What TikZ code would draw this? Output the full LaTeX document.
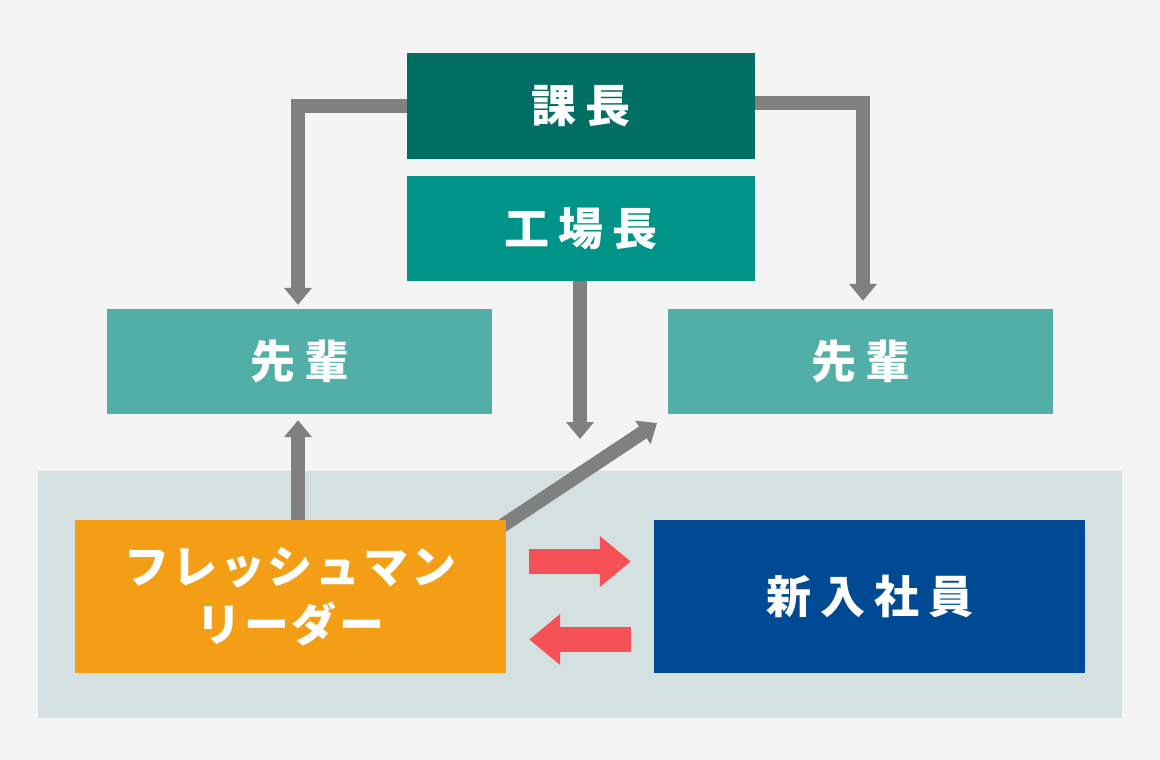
\documentclass[tikz,border=0pt]{standalone}
\usepackage{fontspec}
\usepackage{tikz}
\usetikzlibrary{arrows.meta}

\newfontfamily\jpfont{Noto Sans CJK JP}[LetterSpace=20]
\newfontfamily\kanafont{Noto Sans CJK JP}[LetterSpace=6]

\definecolor{bgGrey}{HTML}{F4F4F4}
\definecolor{panelGrey}{HTML}{D5E1E1}
\definecolor{kachoGreen}{HTML}{006E62}
\definecolor{kojoGreen}{HTML}{009387}
\definecolor{senpaiGreen}{HTML}{52AFA8}
\definecolor{leaderOrange}{HTML}{F39E14}
\definecolor{newBlue}{HTML}{004A94}
\definecolor{linkGrey}{HTML}{808080}
\definecolor{swapRed}{HTML}{F55157}

\pgfdeclarelayer{panel}
\pgfdeclarelayer{links}
\pgfsetlayers{panel,links,main}

\tikzset{
  box/.style={inner sep=0pt, text=white, font=\jpfont\bfseries\fontsize{45}{58}\selectfont},
  link/.style={draw=linkGrey, line width=14pt, -{Triangle[width=27pt,length=17pt]}},
  swap/.style={draw=swapRed, line width=25pt, -{Triangle[width=49pt,length=31pt]}}
}

\begin{document}
\begin{tikzpicture}[x=1pt, y=-1pt]
        \def\topw{348}
        \def\midw{385}
        \def\botw{431}
        \useasboundingbox (0,0) rectangle (1160,760);
        \begin{pgfonlayer}{panel}
            \fill[bgGrey] (0,0) rectangle (1160,760);
            \fill[panelGrey] (38,471) rectangle (1122,718);
        \end{pgfonlayer}
        % boxes
        \node[box, fill=kachoGreen, minimum width=\topw pt, minimum height=106pt] (kacho) at (581,106) {課長};
        \node[box, fill=kojoGreen, minimum width=\topw pt, minimum height=105pt] (kojo) at (581,228.5) {工場長};
        \node[box, fill=senpaiGreen, minimum width=\midw pt, minimum height=105pt] (senpaiL) at (299.5,361.5) {先輩};
        \node[box, fill=senpaiGreen, minimum width=\midw pt, minimum height=105pt] (senpaiR) at (860.5,361.5) {先輩};
        \node[box, fill=leaderOrange, minimum width=\botw pt, minimum height=153pt, align=center,
              font=\kanafont\bfseries\fontsize{45}{58}\selectfont] (leader) at (290.5,596.5) {\raisebox{-6pt}{フレッシュマン}\\\raisebox{-6pt}{リーダー}};
        \node[box, fill=newBlue, minimum width=\botw pt, minimum height=153pt] (shinnyu) at (869.5,596.5) {新入社員};
        \coordinate (kojoTip) at (580,439);
        \coordinate (diagTip) at (657,423);
        % connectors
        \begin{pgfonlayer}{links}
            \draw[link] (kacho.west) -| ([shift={(-1.5pt,4pt)}]senpaiL.north);
            \draw[link] ([yshift=3pt]kacho.east) -| ([shift={(2.5pt,8pt)}]senpaiR.north);
            \draw[link] ([xshift=-1pt]kojo.south) -- (kojoTip);
            \draw[link] ([xshift=7.5pt]leader.north) -- ([shift={(-1.5pt,-6pt)}]senpaiL.south);
            \draw[link] ([shift={(-4pt,-6pt)}]leader.north east) -- (diagTip);
            \draw[swap] ([shift={(23,-35)}]leader.east) -- ([shift={(-23,-35)}]shinnyu.west);
            \draw[swap] ([shift={(-23,43)}]shinnyu.west) -- ([shift={(23,43)}]leader.east);
        \end{pgfonlayer}
\end{tikzpicture}
\end{document}
